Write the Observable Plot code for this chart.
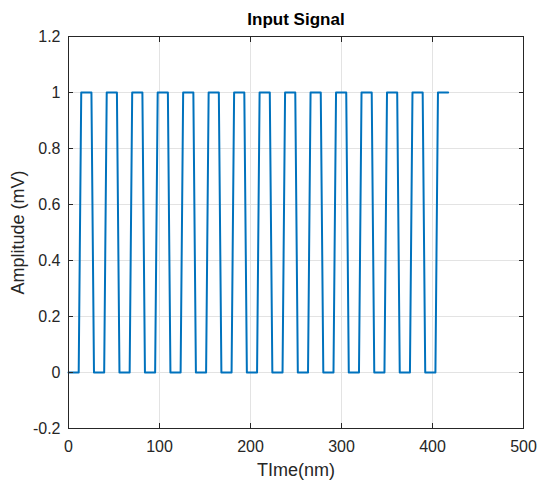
<!DOCTYPE html>
<html>
<head>
<meta charset="utf-8">
<script src="https://cdn.jsdelivr.net/npm/d3@7"></script>
<script src="https://cdn.jsdelivr.net/npm/@observablehq/plot@0.6"></script>
<style>
  html, body { margin: 0; padding: 0; background: #fff; }
  #chart svg { display: block; }
</style>
</head>
<body>
<div id="chart"></div>
<script>
// Time samples (nm) and amplitude (mV) of the square-wave input signal
const timeNm = [
  0, 11.2, 14, 25.2,
  28, 39.2, 42, 53.2,
  56, 67.2, 70, 81.2,
  84, 95.2, 98, 109.2,
  112, 123.2, 126, 137.2,
  140, 151.2, 154, 165.2,
  168, 179.2, 182, 193.2,
  196, 207.2, 210, 221.2,
  224, 235.2, 238, 249.2,
  252, 263.2, 266, 277.2,
  280, 291.2, 294, 305.2,
  308, 319.2, 322, 333.2,
  336, 347.2, 350, 361.2,
  364, 375.2, 378, 389.2,
  392, 403.2, 406, 417.2
];
const amplitudeMv = [
  0, 0, 1, 1,
  0, 0, 1, 1,
  0, 0, 1, 1,
  0, 0, 1, 1,
  0, 0, 1, 1,
  0, 0, 1, 1,
  0, 0, 1, 1,
  0, 0, 1, 1,
  0, 0, 1, 1,
  0, 0, 1, 1,
  0, 0, 1, 1,
  0, 0, 1, 1,
  0, 0, 1, 1,
  0, 0, 1, 1,
  0, 0, 1, 1
];
const xTicks = [0, 100, 200, 300, 400, 500];
const yTicks = [-0.2, 0, 0.2, 0.4, 0.6, 0.8, 1, 1.2];
const yTickLabels = ["-0.2", "0", "0.2", "0.4", "0.6", "0.8", "1", "1.2"];
const titleText = "Input Signal";
const xLabel = "TIme(nm)";
const yLabel = "Amplitude (mV)";

const rows = timeNm.map((t, i) => ({t, v: amplitudeMv[i]}));
const ink = "#262626";
const gridColor = "#e3e3e3";

const chart = Plot.plot({
  width: 537,
  height: 484,
  marginLeft: 68,
  marginRight: 14,
  marginTop: 36,
  marginBottom: 56,
  style: {fontFamily: "'Liberation Sans', Arial, Helvetica, sans-serif", background: "#fff", color: ink},
  x: {domain: [0, 500], label: null},
  y: {domain: [-0.2, 1.2], label: null},
  marks: [
    Plot.gridX(xTicks, {stroke: gridColor, strokeOpacity: 1}),
    Plot.gridY(yTicks, {stroke: gridColor, strokeOpacity: 1}),
    Plot.line(rows, {x: "t", y: "v", stroke: "#0072BD", strokeWidth: 2}),
    Plot.frame({stroke: ink, strokeWidth: 1}),
    // inward ticks on all four sides
    Plot.axisX(xTicks, {anchor: "bottom", tickSize: -5, tickFormat: () => "", stroke: ink, label: null}),
    Plot.axisX(xTicks, {anchor: "top", tickSize: -5, tickFormat: () => "", stroke: ink, label: null}),
    Plot.axisY(yTicks, {anchor: "left", tickSize: -5, tickFormat: () => "", stroke: ink, label: null}),
    Plot.axisY(yTicks, {anchor: "right", tickSize: -5, tickFormat: () => "", stroke: ink, label: null}),
    // tick labels
    Plot.axisX(xTicks, {anchor: "bottom", tickSize: 0, tickPadding: 12, fontSize: 16, fill: ink, label: null, tickFormat: d => String(d)}),
    Plot.axisY(yTicks, {anchor: "left", tickSize: 0, tickPadding: 8, fontSize: 16, fill: ink, label: null, tickFormat: d => yTickLabels[yTicks.indexOf(d)]}),
    // title and axis labels
    Plot.text([titleText], {frameAnchor: "top", lineAnchor: "middle", dy: -17, fontSize: 17, fontWeight: "bold", fill: "#000"}),
    Plot.text([xLabel], {frameAnchor: "bottom", lineAnchor: "middle", dy: 42, fontSize: 18, fill: ink}),
    Plot.text([yLabel], {frameAnchor: "left", textAnchor: "middle", lineAnchor: "middle", dx: -50, rotate: -90, fontSize: 18, fill: ink})
  ]
});
document.getElementById("chart").appendChild(chart);
</script>
</body>
</html>
